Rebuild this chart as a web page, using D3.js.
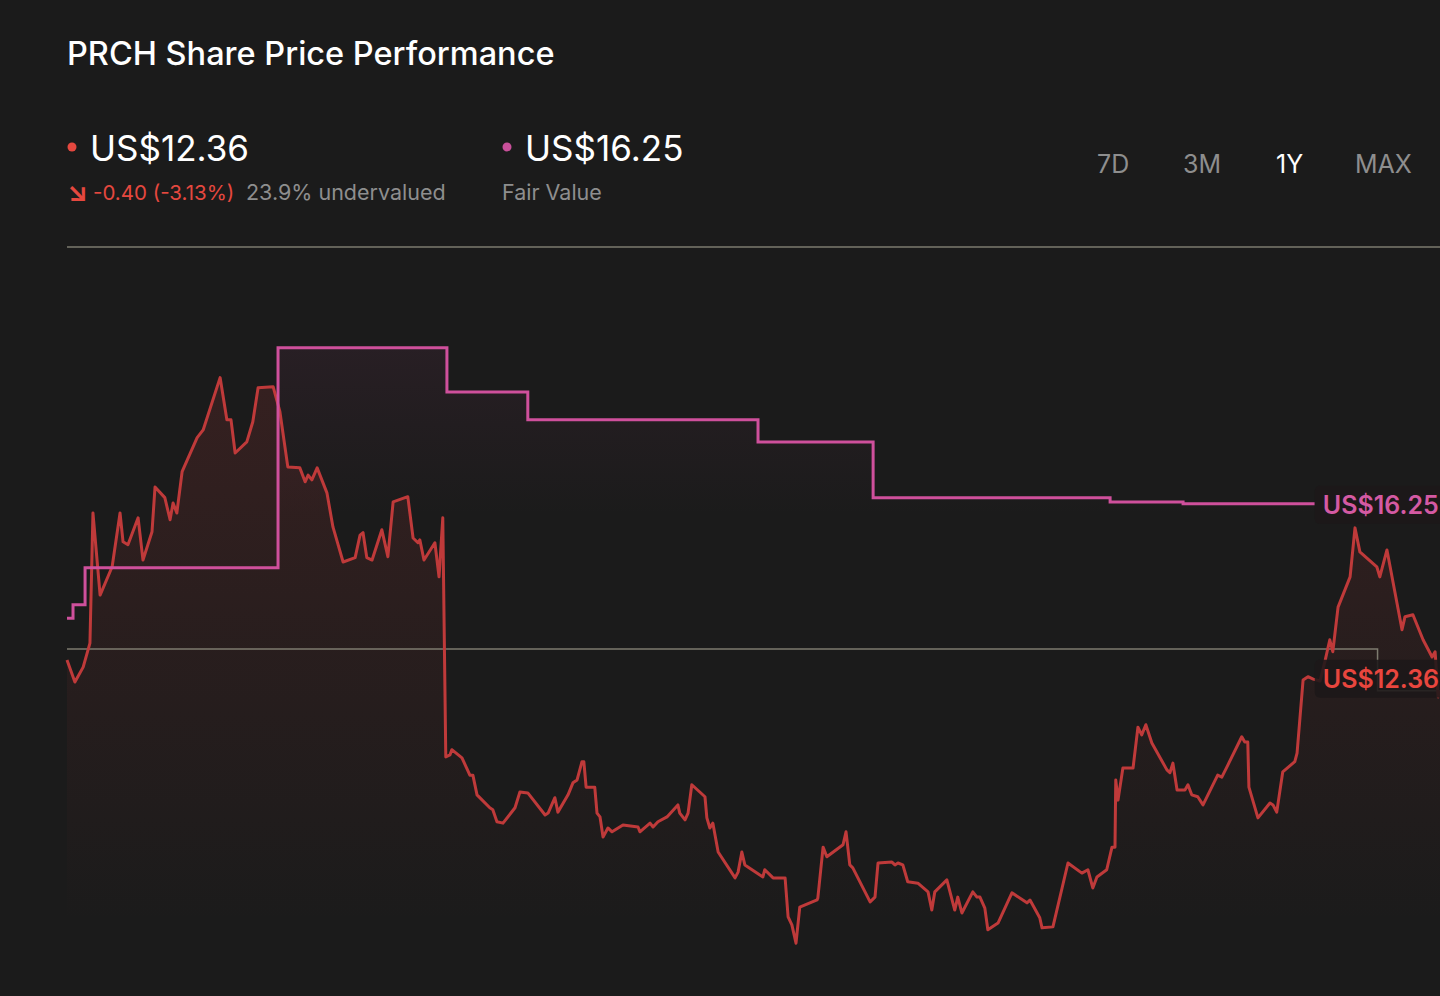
<!DOCTYPE html>
<html>
<head>
<meta charset="utf-8">
<script src="https://cdn.jsdelivr.net/npm/d3@7"></script>
<style>
    body { margin: 0; background: #1b1b1b; overflow: hidden; }
    svg { display: block; }
    text { font-family: Inter, "Noto Sans", sans-serif; }
</style>
</head>
<body>
<svg id="chart" width="1440" height="996"></svg>
<script>
// ---- data (days since start, US$) ----
const startDate = new Date(2025, 0, 24);

const pricePoints = [
    [0,13.00],[2.1,12.54],[4.3,12.85],[6.1,13.35],[6.9,16.06],[8.8,14.35],[12.0,14.94],[14.1,16.06],
    [14.9,15.46],[16.2,15.40],[18.9,15.96],[20.2,15.08],[22.6,15.67],[23.4,16.60],[26.0,16.38],[27.4,15.92],
    [28.2,16.27],[29.2,16.06],[30.6,16.92],[34.6,17.63],[36.2,17.79],[40.7,18.88],[42.5,18.00],[43.6,18.00],
    [44.7,17.31],[47.8,17.54],[49.4,17.96],[50.8,18.67],[54.8,18.69],[56.6,18.17],[58.7,17.02],[61.9,17.00],
    [63.3,16.71],[64.1,16.85],[65.1,16.75],[66.5,17.00],[69.1,16.48],[70.7,15.77],[73.4,15.04],[76.6,15.13],
    [77.9,15.60],[78.7,15.65],[79.7,15.13],[81.1,15.08],[83.7,15.71],[85.3,15.15],[86.7,16.29],[90.6,16.40],
    [92.0,15.54],[93.3,15.44],[93.8,15.50],[94.9,15.08],[97.8,15.44],[98.9,14.73],[99.9,15.96],[100.7,10.98],
    [101.8,11.02],[102.3,11.13],[105.0,10.96],[107.1,10.60],[107.9,10.60],[109.0,10.19],[112.4,9.92],[113.2,9.88],
    [114.3,9.63],[115.9,9.60],[119.1,9.92],[120.4,10.25],[122.5,10.23],[127.1,9.77],[127.9,9.81],[129.7,10.13],
    [130.5,9.83],[133.2,10.19],[134.5,10.44],[135.6,10.50],[136.9,10.88],[137.4,10.88],[138.0,10.35],[140.3,10.35],
    [140.9,9.81],[141.7,9.73],[142.5,9.31],[143.8,9.50],[144.9,9.42],[147.8,9.56],[151.8,9.52],[152.3,9.42],
    [155.0,9.60],[155.8,9.52],[157.1,9.63],[159.5,9.73],[162.4,9.98],[162.9,9.81],[164.3,9.67],[165.1,9.81],
    [166.1,10.40],[169.6,10.15],[170.1,9.71],[170.9,9.50],[171.7,9.60],[173.1,9.00],[177.6,8.46],[178.4,8.58],
    [179.4,9.00],[180.2,8.73],[184.2,8.52],[185.0,8.48],[185.5,8.63],[187.7,8.46],[190.9,8.46],[191.7,7.65],
    [192.7,7.48],[193.8,7.10],[194.8,7.85],[199.4,8.00],[199.6,8.04],[201.0,9.10],[202.0,8.90],[206.3,9.15],
    [207.1,9.42],[208.1,8.73],[208.9,8.67],[213.5,7.96],[214.8,8.06],[215.6,8.77],[219.3,8.79],[220.1,8.73],
    [220.9,8.77],[222.2,8.73],[223.5,8.38],[226.2,8.35],[228.9,8.17],[229.9,7.79],[230.7,8.17],[233.9,8.42],
    [236.0,7.79],[236.8,8.06],[237.9,7.73],[240.8,8.17],[241.9,8.06],[242.7,8.06],[244.0,7.83],[244.8,7.38],
    [247.5,7.52],[251.2,8.15],[255.2,7.94],[256.0,8.00],[258.6,7.63],[259.2,7.42],[262.1,7.44],[266.1,8.77],
    [269.8,8.56],[271.4,8.63],[272.7,8.25],[273.8,8.48],[276.4,8.63],[277.8,9.10],[278.6,9.10],[278.8,10.50],
    [279.4,10.08],[280.7,10.75],[283.4,10.75],[284.7,11.60],[285.7,11.44],[286.8,11.65],[288.4,11.27],[292.4,10.71],
    [293.2,10.65],[294.0,10.85],[295.1,10.29],[297.2,10.29],[298.0,10.40],[299.0,10.19],[300.6,10.15],[302.0,9.98],
    [305.9,10.60],[307.0,10.56],[308.6,10.81],[312.3,11.40],[313.1,11.29],[313.9,11.29],[314.2,10.35],[316.6,9.71],
    [319.8,10.02],[320.6,9.98],[321.6,9.83],[323.2,10.67],[326.4,10.88],[327.0,11.06],[328.6,12.58],[329.9,12.65],
    [331.3,12.60],[333.1,12.56],[334.5,13.00],[335.7,13.42],[336.5,13.17],[337.9,14.10],[341.1,14.73],[342.4,15.75],
    [343.7,15.25],[348.2,14.94],[349.0,14.73],[350.9,15.29],[354.9,13.63],[355.7,13.90],[357.8,13.94],[360.5,13.42],
    [362.9,13.06],[363.7,13.17],[364.5,12.23],[365,12.36]
];

const fairDays = [0, 1.6, 4.8, 56.1, 101.0, 122.5, 183.7, 214.3, 277.3, 296.7, 331.7];
const fairValues = [13.87, 14.15, 14.92, 19.50, 18.58, 18.00, 17.54, 16.38, 16.29, 16.25, 16.25];

const refDays = [0, 348.4, 365];
const refValues = [13.23, 12.36, 12.36];

const lastPrice = 12.36;
const fairValue = 16.25;
const rangeTabs = ["7D", "3M", "1Y", "MAX"];
const activeTab = "1Y";

// ---- helpers ----
const toDate = d => new Date(startDate.getTime() + d * 86400000);
const fmt = v => "US$" + d3.format(".2f")(v);

const svg = d3.select("#chart");
const W = 1440, H = 996;
const margin = {top: 247, right: 0, bottom: 48, left: 67};

const x = d3.scaleTime()
    .domain([toDate(0), toDate(365)])
    .range([margin.left, W - margin.right]);
const y = d3.scaleLinear()
    .domain([7, 21.6])
    .range([H - margin.bottom, margin.top]);

const priceData = pricePoints.map(p => ({date: toDate(p[0]), value: p[1]}));
const fairData = fairDays.map((d, i) => ({date: toDate(d), value: fairValues[i]}));
const refData = refDays.map((d, i) => ({date: toDate(d), value: refValues[i]}));

// gradients
const defs = svg.append("defs");
const priceGrad = defs.append("linearGradient")
    .attr("id", "priceGrad").attr("gradientUnits", "userSpaceOnUse")
    .attr("x1", 0).attr("x2", 0).attr("y1", y(19)).attr("y2", y(7.5));
priceGrad.append("stop").attr("offset", 0).attr("stop-color", "#c23b3b").attr("stop-opacity", 0.16);
priceGrad.append("stop").attr("offset", 1).attr("stop-color", "#c23b3b").attr("stop-opacity", 0);

const fairGrad = defs.append("linearGradient")
    .attr("id", "fairGrad").attr("gradientUnits", "userSpaceOnUse")
    .attr("x1", 0).attr("x2", 0).attr("y1", y(19.5)).attr("y2", y(16));
fairGrad.append("stop").attr("offset", 0).attr("stop-color", "#d4509c").attr("stop-opacity", 0.07);
fairGrad.append("stop").attr("offset", 1).attr("stop-color", "#d4509c").attr("stop-opacity", 0);

// ---- header ----
svg.append("text")
    .attr("x", 67).attr("y", 65)
    .attr("fill", "#ffffff").attr("font-size", 32.5).attr("font-weight", 500)
    .text("PRCH Share Price Performance");

svg.append("circle").attr("cx", 72).attr("cy", 147).attr("r", 4.5).attr("fill", "#e5483f");
svg.append("text")
    .attr("x", 90).attr("y", 161)
    .attr("fill", "#ffffff").attr("font-size", 35).attr("font-weight", 400)
    .text(fmt(lastPrice));

svg.append("text")
    .attr("x", 67).attr("y", 201)
    .attr("fill", "#e5483f").attr("font-size", 27).attr("font-weight", 700)
    .attr("font-family", "DejaVu Sans")
    .text("↘");
svg.append("text")
    .attr("x", 93).attr("y", 200)
    .attr("fill", "#e5483f").attr("font-size", 20.5)
    .text("-0.40 (-3.13%)");
svg.append("text")
    .attr("x", 246).attr("y", 200)
    .attr("fill", "#8e8e8e").attr("font-size", 21.5)
    .text("23.9% undervalued");

svg.append("circle").attr("cx", 507).attr("cy", 147).attr("r", 4.5).attr("fill", "#c9509a");
svg.append("text")
    .attr("x", 525).attr("y", 161)
    .attr("fill", "#ffffff").attr("font-size", 35).attr("font-weight", 400)
    .text(fmt(fairValue));
svg.append("text")
    .attr("x", 502).attr("y", 200)
    .attr("fill", "#8e8e8e").attr("font-size", 21.5)
    .text("Fair Value");

const tabX = [1097, 1183, 1276, 1355];
svg.selectAll("text.tab")
    .data(rangeTabs)
    .enter().append("text")
    .attr("class", "tab")
    .attr("x", (d, i) => tabX[i]).attr("y", 173)
    .attr("fill", d => d === activeTab ? "#ffffff" : "#8e8e8e")
    .attr("font-size", 25)
    .text(d => d);

// ---- chart ----
svg.append("line")
    .attr("x1", margin.left).attr("x2", W)
    .attr("y1", y.range()[1]).attr("y2", y.range()[1])
    .attr("stroke", "#7d7b6f").attr("stroke-width", 1.5);

const fairArea = d3.area()
    .curve(d3.curveStepAfter)
    .x(d => x(d.date)).y0(y(7)).y1(d => y(d.value));
svg.append("path").datum(fairData)
    .attr("d", fairArea).attr("fill", "url(#fairGrad)");

const priceArea = d3.area()
    .x(d => x(d.date)).y0(y(7)).y1(d => y(d.value));
svg.append("path").datum(priceData)
    .attr("d", priceArea).attr("fill", "url(#priceGrad)");

const stepLine = d3.line().curve(d3.curveStepAfter)
    .x(d => x(d.date)).y(d => y(d.value));

svg.append("path").datum(refData)
    .attr("d", stepLine).attr("fill", "none")
    .attr("stroke", "#7d7b6f").attr("stroke-width", 1.5);

svg.append("path").datum(priceData)
    .attr("d", d3.line().x(d => x(d.date)).y(d => y(d.value)))
    .attr("fill", "none").attr("stroke", "#bf3a3a")
    .attr("stroke-width", 3).attr("stroke-linejoin", "round");

svg.append("path").datum(fairData)
    .attr("d", stepLine).attr("fill", "none")
    .attr("stroke", "#cf509c").attr("stroke-width", 3);

// value tags at the right edge
const tagX = x(toDate(fairDays[fairDays.length - 1]));
const tags = [
    {value: fairValue, cy: y(fairValue) + 1, color: "#d45aa3"},
    {value: lastPrice, cy: y(lastPrice) - 12, color: "#e9463e"}
];
const tag = svg.selectAll("g.tag").data(tags).enter().append("g").attr("class", "tag");
tag.append("rect")
    .attr("x", tagX).attr("y", d => d.cy - 19)
    .attr("width", 160).attr("height", 38).attr("rx", 5)
    .attr("fill", "#1d1819").attr("fill-opacity", 0.88);
tag.append("text")
    .attr("x", tagX + 8).attr("y", d => d.cy + 9)
    .attr("fill", d => d.color).attr("font-size", 25).attr("font-weight", 600)
    .text(d => fmt(d.value));
</script>
</body>
</html>
